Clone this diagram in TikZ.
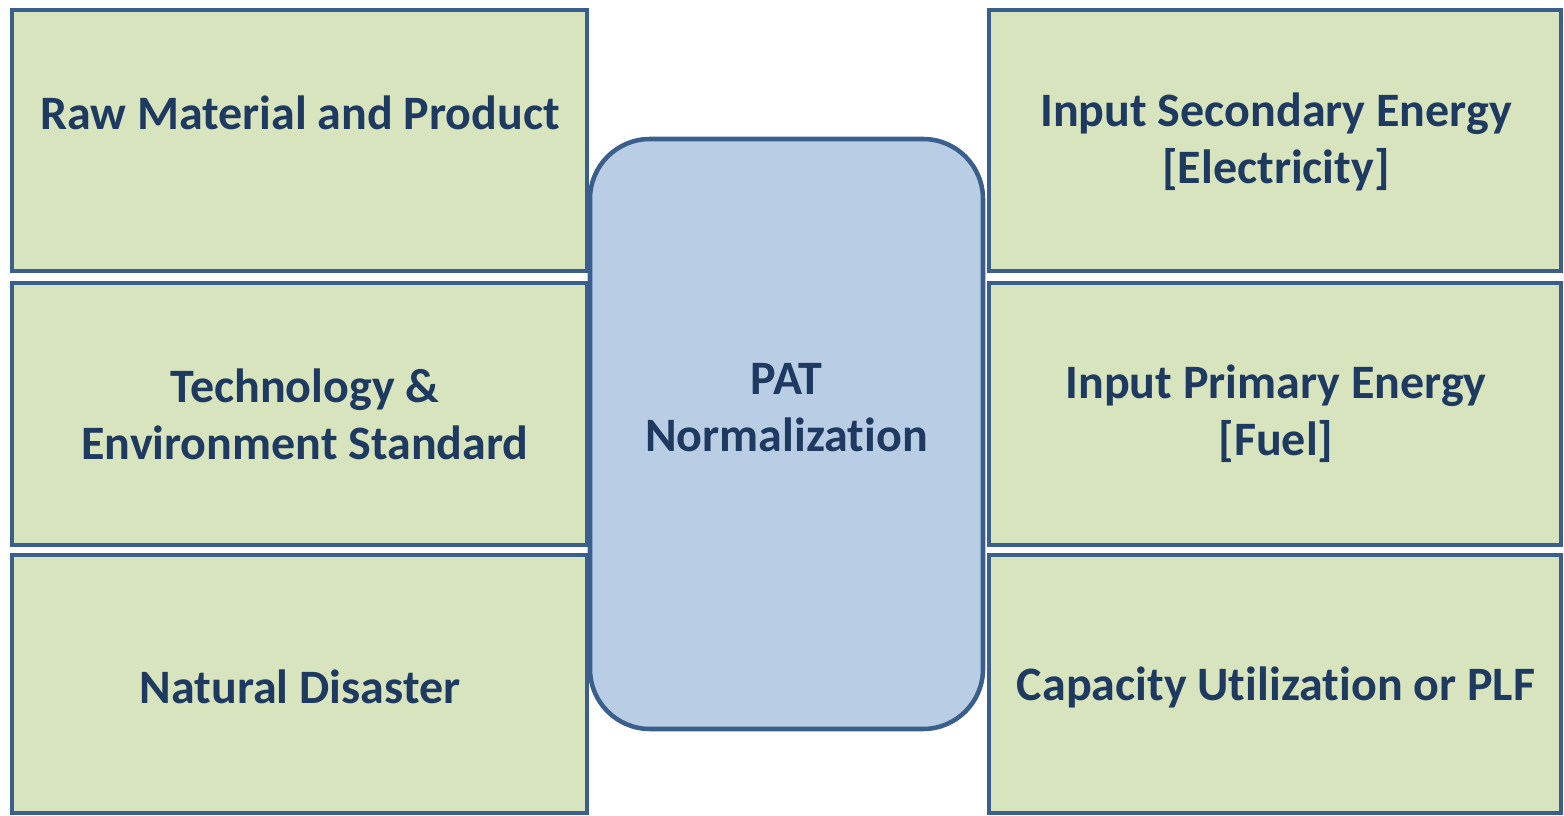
\documentclass[tikz,border=0pt]{standalone}
\usepackage{fontspec}
\setmainfont[Ligatures=NoCommon]{Carlito}
\definecolor{boxfill}{HTML}{D7E4BD}
\definecolor{boxline}{HTML}{3A5F8C}
\definecolor{centerfill}{HTML}{B9CDE5}
\definecolor{txt}{HTML}{1F3A60}
\tikzset{
  sidebox/.style={draw=boxline, fill=boxfill, line width=3.4pt, inner sep=0pt, outer sep=0pt, minimum height=#1},
  leftbox/.style={sidebox=#1, minimum width=431.25pt},
  rightbox/.style={sidebox=#1, minimum width=429pt},
  hub/.style={draw=boxline, fill=centerfill, line width=3.4pt, rounded corners=45pt, inner sep=0pt, outer sep=0pt, minimum width=294.75pt, minimum height=442.5pt},
  lbl/.style={text=txt, font=\fontsize{36pt}{42.75pt}\selectfont\bfseries, align=center, inner sep=0pt}
}
\begin{document}
\begin{tikzpicture}[x=0.75pt, y=-0.75pt]
\useasboundingbox (0,0) rectangle (1564,816);
\node[leftbox=195.75pt] (l1) at (299.5,140.5) {};
\node[leftbox=196.5pt] (l2) at (299.5,414) {};
\node[leftbox=193.5pt] (l3) at (299.5,684) {};
\node[rightbox=195.75pt] (r1) at (1275,140.5) {};
\node[rightbox=196.5pt] (r2) at (1275,414) {};
\node[rightbox=193.5pt] (r3) at (1275,684) {};
\node[hub] (c) at (786.5,434) {};
\node[lbl] (tl1) at (300,113) {Raw Material and Product};
\node[lbl] (tl2) at (305,414) {Technology \&\\Environment Standard};
\node[lbl] (tl3) at (300,687) {Natural Disaster};
\node[lbl] (tr1) at (1276,142) {Input Secondary Energy\\{}[Electricity]};
\node[lbl] (tr2) at (1276,414) {Input Primary Energy\\{}[Fuel]};
\node[lbl] (tr3) at (1276,687) {Capacity Utilization or PLF};
\node[lbl] (tc) at (786.5,408) {PAT\\Normalization};
\end{tikzpicture}
\end{document}
